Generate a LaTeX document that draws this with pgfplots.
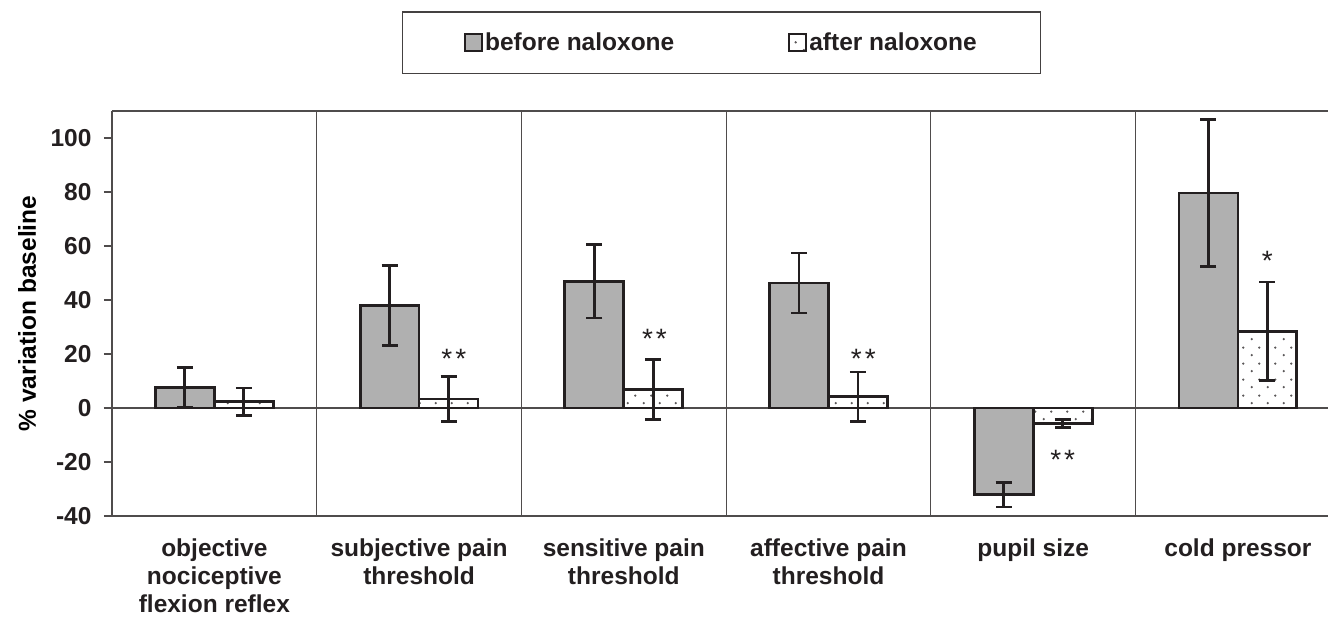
\documentclass[border=0pt]{standalone}
\usepackage{fontspec}
\setmainfont{Liberation Sans}
\usepackage{pgfplots}
\usepackage{pgfplotstable}
\pgfplotsset{compat=1.18}
\usetikzlibrary{patterns.meta}
\definecolor{ink}{RGB}{35,31,32}
\definecolor{barg}{RGB}{176,176,176}
\tikzdeclarepattern{
  name=sparsedots,
  type=uncolored,
  bounding box={(0pt,0pt) and (16pt,16pt)},
  tile size={(16pt,16pt)},
  code={\fill (4pt,4pt) circle (1.3pt); \fill (12pt,12pt) circle (1.3pt);}
}
\pgfplotstableread{
x before beforeerr after aftererr
0 7.6 7.4 2.35 5.05
1 37.9 14.8 3.35 8.35
2 46.9 13.6 6.9 11.2
3 46.3 11.1 4.2 9.1
4 -32.1 4.6 -5.75 1.45
5 79.6 27.2 28.4 18.3
}\data
\begin{document}
\begin{tikzpicture}
\useasboundingbox (-112pt,-114pt) rectangle (1216pt,516pt);
\begin{axis}[
  at={(0pt,0pt)}, anchor=south west,
  scale only axis, width=1216pt, height=405pt,
  xmin=-0.5, xmax=5.44, ymin=-40, ymax=110,
  axis x line*=box, axis y line*=left,
  axis line style={line width=1.3pt, ink!80},
  font=\fontsize{24.5}{28}\selectfont\bfseries,
  /pgf/number format/assume math mode=true,
  ytick={-40,-20,...,100},
  tick align=outside, major tick length=8pt,
  y tick style={line width=1.3pt, ink!80},
  x tick style={draw=none},
  xtick={0,...,5},
  xticklabels={{objective\\nociceptive\\flexion reflex},{subjective pain\\threshold},{sensitive pain\\threshold},{affective pain\\threshold},{pupil size},{cold pressor}},
  xticklabel style={align=center, anchor=north, yshift=-11pt, text=ink},
  yticklabel style={text=ink, xshift=-9pt},
  extra x ticks={0.5,1.5,2.5,3.5,4.5},
  extra x tick labels={},
  extra x tick style={grid=major, major grid style={line width=1.2pt, ink!80}},
  extra y ticks={0},
  extra y tick labels={},
  extra y tick style={grid=major, major grid style={line width=1.2pt, ink!80}},
  ylabel={\% variation baseline},
  ylabel style={text=ink},
  every axis y label/.style={at={(rel axis cs:0,0.5)}, xshift=-85pt, rotate=90, anchor=center},
  bar width=0.288,
  legend columns=2,
  legend style={at={(rel axis cs:0.5012,1.169)}, anchor=center, draw=ink!85, line width=1.2pt,
    inner xsep=62pt, inner ysep=19pt, text=ink,
    /tikz/every even column/.append style={column sep=112pt}},
  legend image code/.code={\draw[#1, line width=2pt] (0pt,-8.5pt) rectangle (17pt,8.5pt);},
]
\addplot[ybar, bar shift=0pt, draw=ink, line width=2.8pt, fill=barg,
  error bars/.cd, y dir=both, y explicit,
  error bar style={line width=2.8pt, ink},
  error mark options={rotate=90, mark size=8pt, line width=2.8pt, ink}]
  table[x expr=\thisrow{x}-0.144, y=before, y error=beforeerr]{\data};
\addlegendentry{before naloxone}
\addplot[ybar, bar shift=0pt, draw=ink, line width=2.8pt, pattern=sparsedots, pattern color=ink!75,
  error bars/.cd, y dir=both, y explicit,
  error bar style={line width=2.8pt, ink},
  error mark options={rotate=90, mark size=8pt, line width=2.8pt, ink}]
  table[x expr=\thisrow{x}+0.144, y=after, y error=aftererr]{\data};
\addlegendentry{after naloxone}
\begin{scope}[every node/.style={font=\fontsize{28}{30}\selectfont\mdseries, text=ink, anchor=base, yshift=-16pt}]
\node at (axis cs:1.17,20.4) {*\hspace{3pt}*};
\node at (axis cs:2.15,28.1) {*\hspace{3pt}*};
\node at (axis cs:3.17,20.4) {*\hspace{3pt}*};
\node at (axis cs:4.144,-16.7) {*\hspace{3pt}*};
\node at (axis cs:5.144,56.7) {*};
\end{scope}
\end{axis}
\end{tikzpicture}
\end{document}
